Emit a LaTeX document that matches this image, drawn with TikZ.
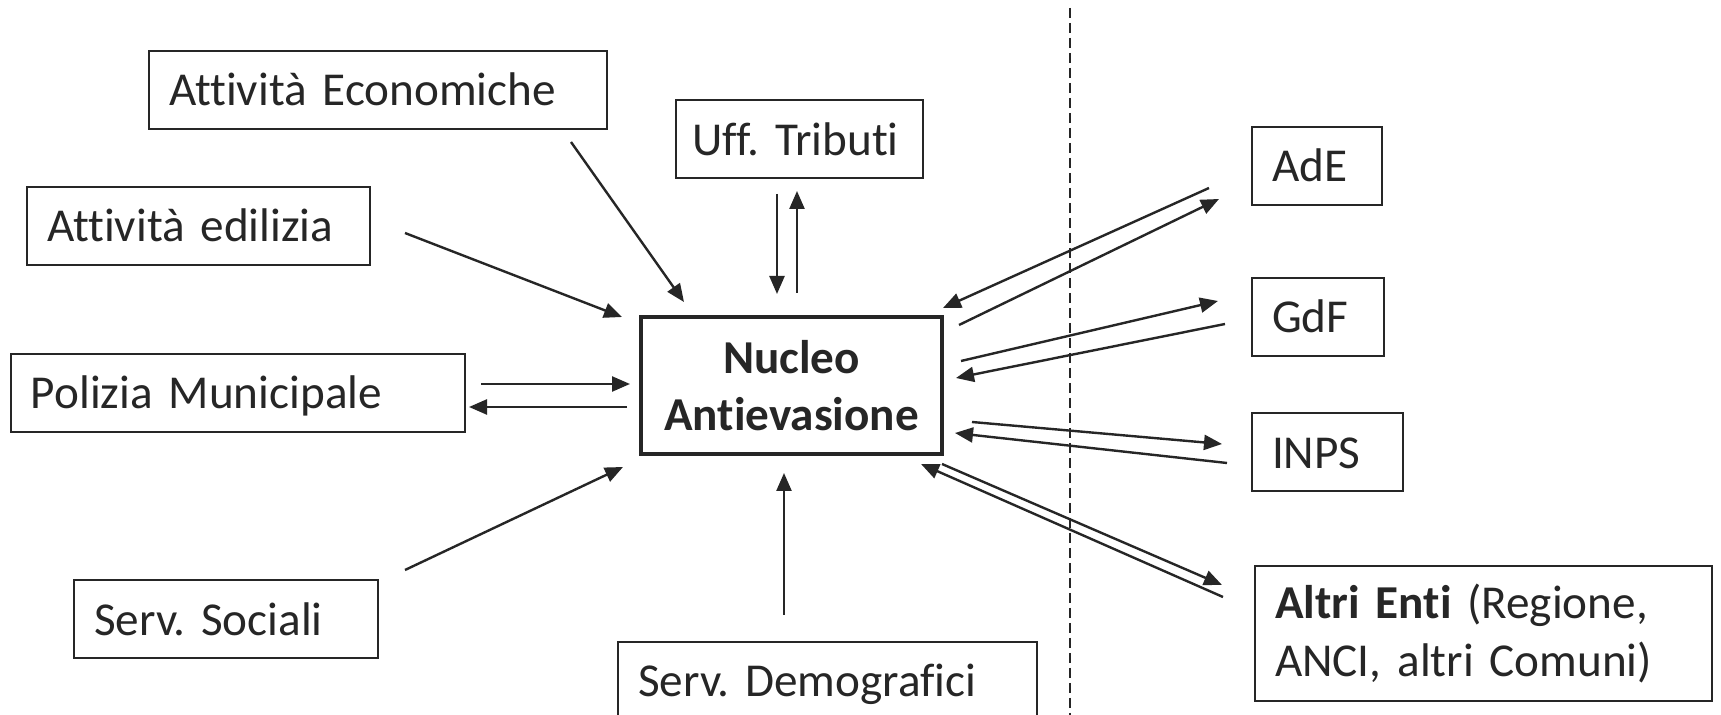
\documentclass[tikz,border=0pt]{standalone}
\usepackage{fontspec}
\setmainfont{Carlito}[Ligatures=NoCommon]
\usetikzlibrary{arrows.meta}
\definecolor{ink}{HTML}{262626}
\frenchspacing
\hyphenpenalty=10000
\exhyphenpenalty=10000
\begin{document}
\begin{tikzpicture}[x=0.5pt,y=-0.5pt,
  basebox/.style={draw=ink, line width=1pt, rectangle, inner xsep=10pt, inner ysep=0pt,
    align=left, text=ink, font=\fontsize{23.6}{28.8}\selectfont},
  box/.style={basebox, minimum height=39pt, text height=20pt, text depth=4pt},
  core/.style={draw=ink, line width=2pt, rectangle, minimum width=150.5pt, minimum height=68.5pt,
    inner sep=0pt, align=center, text=ink, font=\fontsize{23.6}{28.5}\selectfont\bfseries},
  flow/.style={draw=ink, line width=1.2pt, -{Triangle[length=9pt,width=7.5pt]}},
  divider/.style={draw=ink, line width=0.8pt, dash pattern=on 5pt off 2.5pt}]
\clip (0,0) rectangle (1721,715);
\fill[white] (0,0) rectangle (1721,715);

% boxes
\node[box, text width=209pt]   (econ)  at (378,90)     {Attività Economiche};
\node[box, text width=107.5pt, inner xsep=8pt] (trib)  at (799.5,139.5){Uff. Tributi};
\node[box, text width=151.5pt] (edil)  at (198.5,226)  {Attività edilizia};
\node[box, text width=207pt]   (poliz) at (238,393)    {Polizia Municipale};
\node[core]                    (nuc)   at (791.5,385.5){Nucleo\\Antievasione};
\node[box, text width=132pt]   (soc)   at (226,619.5)  {Serv. Sociali};
\node[box, text width=189.5pt] (demo)  at (827.5,681)  {Serv. Demografici};
\node[box, text width=45pt]    (ade)   at (1317,166)   {AdE};
\node[box, text width=46pt]    (gdf)   at (1318,317)   {GdF};
\node[box, text width=55.5pt]  (inps)  at (1327.5,452.5){INPS};
\node[basebox, text width=208.5pt, minimum height=67.5pt] (altri) at (1483.5,633.5)
  {\textbf{Altri Enti} (Regione,\\ANCI, altri Comuni)};

% divider
\coordinate (dtop) at (1070,8);
\coordinate (dbot) at (1070,715);
\draw[divider] (dtop) -- (dbot);

% connector end points
\coordinate (e1) at (571,142);  \coordinate (e2) at (684,302);
\coordinate (d1) at (405,233);  \coordinate (d2) at (622,317);
\coordinate (t1) at (777,194);  \coordinate (t2) at (777,294);
\coordinate (t3) at (797,293);  \coordinate (t4) at (797,191);
\coordinate (p1) at (481,384);  \coordinate (p2) at (630,384);
\coordinate (p3) at (627,407);  \coordinate (p4) at (469,407);
\coordinate (s1) at (405,570);  \coordinate (s2) at (623,467);
\coordinate (m1) at (784,615);  \coordinate (m2) at (784,473);
\coordinate (a1) at (1209,188); \coordinate (a2) at (943,308);
\coordinate (a3) at (959,325);  \coordinate (a4) at (1219,199);
\coordinate (g1) at (961,361);  \coordinate (g2) at (1218,301);
\coordinate (g3) at (1225,324); \coordinate (g4) at (956,378);
\coordinate (i1) at (972,422);  \coordinate (i2) at (1222,444);
\coordinate (i3) at (1227,463); \coordinate (i4) at (955,433);
\coordinate (r1) at (942,464);  \coordinate (r2) at (1222,585);
\coordinate (r3) at (1223,597); \coordinate (r4) at (921,464);

\draw[flow] (e1) -- (e2);
\draw[flow] (d1) -- (d2);
\draw[flow] (t1) -- (t2);
\draw[flow] (t3) -- (t4);
\draw[flow] (p1) -- (p2);
\draw[flow] (p3) -- (p4);
\draw[flow] (s1) -- (s2);
\draw[flow] (m1) -- (m2);
\draw[flow] (a1) -- (a2);
\draw[flow] (a3) -- (a4);
\draw[flow] (g1) -- (g2);
\draw[flow] (g3) -- (g4);
\draw[flow] (i1) -- (i2);
\draw[flow] (i3) -- (i4);
\draw[flow] (r1) -- (r2);
\draw[flow] (r3) -- (r4);
\end{tikzpicture}
\end{document}
